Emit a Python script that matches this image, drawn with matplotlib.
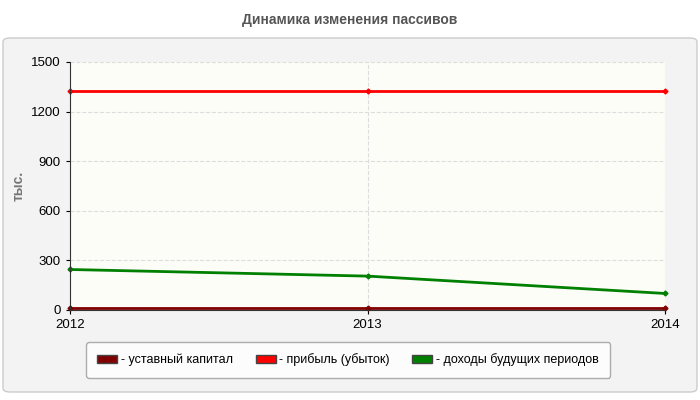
import matplotlib.pyplot as plt
from matplotlib.patches import FancyBboxPatch

plt.rcParams['font.family'] = ['Liberation Sans', 'DejaVu Sans']

years = [2012, 2013, 2014]
ustavny = [10, 10, 10]
pribyl = [1325, 1325, 1325]
dohody = [245, 205, 100]
yticks = [0, 300, 600, 900, 1200, 1500]

fig = plt.figure(figsize=(7, 4), dpi=100)
fig.patch.set_facecolor('white')
fig.patches.append(FancyBboxPatch((3 / 700, 8 / 400), 694 / 700, 354 / 400,
                                  boxstyle='round,pad=0,rounding_size=0.01',
                                  transform=fig.transFigure, facecolor='#f3f3f3',
                                  edgecolor='#cccccc', linewidth=1, zorder=-5))
fig.text(0.5, 1 - 20 / 400, 'Динамика изменения пассивов', ha='center', va='center',
         fontsize=10, fontweight='bold', color='#555555')

ax = fig.add_axes([70 / 700, 90 / 400, 595 / 700, 248 / 400])
ax.set_zorder(2)
ax.set_facecolor('#fdfdf8')
ax.plot(years, ustavny, color='#800000', lw=2, marker='D', ms=2.5, clip_on=False)
ax.plot(years, pribyl, color='#ff0000', lw=2, marker='D', ms=2.5, clip_on=False)
ax.plot(years, dohody, color='#008000', lw=2, marker='D', ms=2.5, clip_on=False)
ax.set_xlim(2012, 2014)
ax.set_ylim(0, 1500)
ax.set_xticks(years)
ax.set_yticks(yticks)
ax.tick_params(labelsize=9.5, length=3)
ax.grid(True, linestyle='--', color='#dddddd', linewidth=0.8)
for s in ['top', 'right']:
    ax.spines[s].set_visible(False)
ax.spines['left'].set_color('#333333')
ax.spines['bottom'].set_color('#333333')
ax.set_ylabel('тыс.', fontsize=10, fontweight='bold', color='#777777')

handles = [plt.Rectangle((0, 0), 1, 1, facecolor=c, edgecolor='#444444')
           for c in ['#800000', '#ff0000', '#008000']]
leg = fig.legend(handles, ['- уставный капитал', '- прибыль (убыток)', '- доходы будущих периодов'],
                 loc='center', bbox_to_anchor=(348 / 700, 1 - 360 / 400), ncol=3,
                 fontsize=9, frameon=True, fancybox=True, handlelength=1.6,
                 handleheight=0.7, handletextpad=0.3, columnspacing=1.8,
                 borderpad=0.9)
leg.get_frame().set_edgecolor('#999999')
leg.get_frame().set_facecolor('white')
leg.set_zorder(3)

fig.savefig('out.png', dpi=100)
